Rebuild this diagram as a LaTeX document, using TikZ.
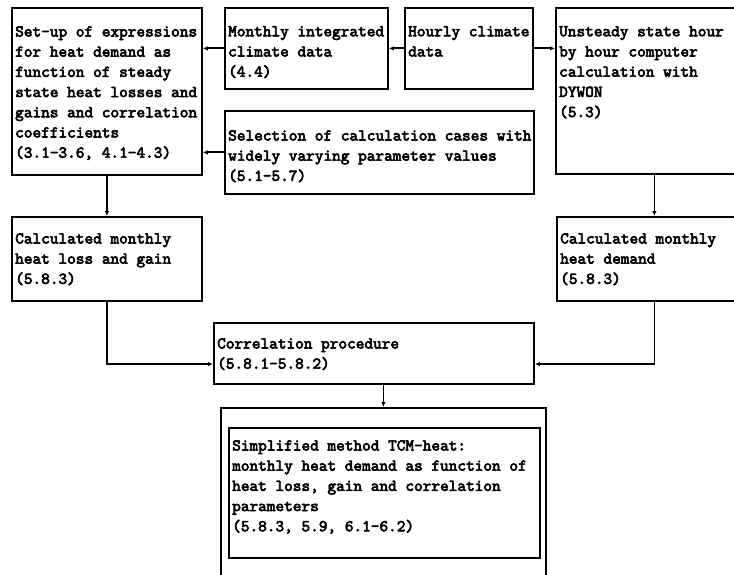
\documentclass[tikz,border=0pt]{standalone}
\usepackage{fontspec}
\setmonofont{lmmono10-regular.otf}[AutoFakeBold=3.6]
\usetikzlibrary{arrows.meta,calc}
\begin{document}
\begin{tikzpicture}[x=1pt,y=-1pt,
  box/.style={draw, line width=1.8pt, anchor=north west, inner sep=0pt},
  txt/.style={anchor=north west, inner sep=0pt, align=left,
    font=\ttfamily\bfseries\fontsize{16.5}{20.2}\selectfont},
  conn/.style={line width=1.8pt, -{Latex[length=5pt,width=4.5pt]}}]
\useasboundingbox (0,0) rectangle (734,575);
% boxes
\node[box, minimum width=190, minimum height=167] (A)  at (11,7) {};
\node[box, minimum width=163, minimum height=81]  (Mo) at (224,7) {};
\node[box, minimum width=128, minimum height=81]  (Ho) at (404,7) {};
\node[box, minimum width=195, minimum height=166] (Un) at (555,7) {};
\node[box, minimum width=309, minimum height=83]  (Se) at (224,110) {};
\node[box, minimum width=190, minimum height=84]  (CL) at (11,216) {};
\node[box, minimum width=195, minimum height=84]  (CD) at (556,216) {};
\node[box, minimum width=320, minimum height=61]  (Co) at (213,322) {};
\node[box, minimum width=325, minimum height=190] (Ou) at (220,407) {};
\node[box, minimum width=311, minimum height=130] (In) at (228,427) {};
% texts
\node[txt] (At) at ($(A.north west)+(4,19)$) {Set-up of expressions\\for heat demand as\\function of steady\\state heat losses and\\gains and correlation\\coefficients\\(3.1–3.6, 4.1–4.3)};
\node[txt] (Mot) at ($(Mo.north west)+(4,19)$) {Monthly integrated\\climate data\\(4.4)};
\node[txt] (Hot) at ($(Ho.north west)+(4,19)$) {Hourly climate\\data};
\node[txt] (Unt) at ($(Un.north west)+(4,19)$) {Unsteady state hour\\by hour computer\\calculation with\\DYWON\\(5.3)};
\node[txt] (Set) at ($(Se.north west)+(4,20)$) {Selection of calculation cases with\\widely varying parameter values\\(5.1–5.7)};
\node[txt] (CLt) at ($(CL.north west)+(4,17)$) {Calculated monthly\\heat loss and gain\\(5.8.3)};
\node[txt] (CDt) at ($(CD.north west)+(4,17)$) {Calculated monthly\\heat demand\\(5.8.3)};
\node[txt] (Cot) at ($(Co.north west)+(4,16)$) {Correlation procedure\\(5.8.1–5.8.2)};
\node[txt] (Int) at ($(In.north west)+(4,13)$) {Simplified method TCM-heat:\\monthly heat demand as function of\\heat loss, gain and correlation\\parameters\\(5.8.3, 5.9, 6.1–6.2)};
% connector join points
\coordinate (CoL) at ($(Co.north west)!0.67!(Co.south west)$);
\coordinate (CoR) at ($(Co.north east)!0.67!(Co.south east)$);
% connectors
\draw[conn] (Mo.west) -- (Mo.west -| A.east);
\draw[conn] (Ho.west) -- (Ho.west -| Mo.east);
\draw[conn] (Ho.east) -- (Ho.east -| Un.west);
\draw[conn] (Se.west) -- (Se.west -| A.east);
\draw[conn] (A.south) -- (A.south |- CL.north);
\draw[conn] (Un.south -| CD.north) -- (CD.north);
\draw[conn] (CL.south) |- (CoL);
\draw[conn] (CD.south) |- (CoR);
\draw[conn] (Ou.north |- Co.south) -- (Ou.north);
\end{tikzpicture}
\end{document}
